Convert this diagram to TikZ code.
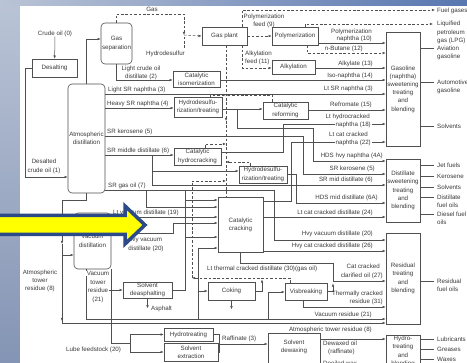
\documentclass[tikz,border=0pt]{standalone}
\usepackage{fontspec}
\setmainfont{Liberation Sans}
\usetikzlibrary{arrows.meta}
\definecolor{ln}{HTML}{505050}
\definecolor{tx}{HTML}{3A3A3A}
\definecolor{bgA}{HTML}{BAC4D6}
\definecolor{bgB}{HTML}{8494B4}
\definecolor{bgC}{HTML}{5876B0}
\definecolor{arrY}{HTML}{FFFF00}
\definecolor{arrB}{HTML}{2C4A88}
\newcounter{lbc}
\newcommand\labW[3]{\stepcounter{lbc}\node[lb,anchor=base west] (L\arabic{lbc}) at (#1,#2) {#3};}
\newcommand\labC[3]{\stepcounter{lbc}\node[lb,anchor=base] (L\arabic{lbc}) at (#1,#2) {#3};}
\newcommand\labE[3]{\stepcounter{lbc}\node[lb,anchor=base east] (L\arabic{lbc}) at (#1,#2) {#3};}
\newcommand\labF[3]{\stepcounter{lbc}\node[wl,anchor=base east] (L\arabic{lbc}) at (#1,#2) {#3};}
\newcommand\labFC[3]{\stepcounter{lbc}\node[wl,anchor=base] (L\arabic{lbc}) at (#1,#2) {#3};}
\begin{document}
\begin{tikzpicture}[x=1pt,y=-1pt,
  font=\fontsize{6.2}{8.2}\selectfont,
  box/.style={draw=ln, line width=0.6pt, fill=white, text=tx, align=center, inner sep=0pt},
  rbox/.style={box, rounded corners=4pt},
  lb/.style={text=tx, inner sep=0pt},
  wl/.style={lb, fill=white, inner xsep=1pt, inner ysep=0.6pt},
  fl/.style={draw=ln, line width=0.5pt, -{Latex[length=3.2pt,width=2.6pt]}},
  pl/.style={draw=ln, line width=0.5pt},
  dfl/.style={fl, dash pattern=on 2.6pt off 1.8pt},
  dpl/.style={pl, dash pattern=on 2.6pt off 1.8pt}]
% ---------- background ----------
\useasboundingbox (0,0) rectangle (467,363);
\shade[top color=bgA, bottom color=bgB] (0,0) rectangle (467,363);
\shade[left color=bgA, right color=bgC] (0,0) rectangle (467,6);
\fill[white] (20,6) rectangle (467,363);
% ---------- boxes ----------
\node[rbox, minimum width=31, minimum height=41] (gassep) at (116.5,43.5) {Gas\\separation};
\node[box, minimum width=45, minimum height=18] (desalt) at (54.5,68) {Desalting};
\node[rbox, minimum width=37, minimum height=109] (atm) at (86.5,138.5) {Atmospheric\\distillation};
\node[rbox, minimum width=37, minimum height=56] (vac) at (92.5,241) {Vacuum\\distillation};
\node[box, minimum width=45, minimum height=18] (gasplant) at (224.5,36) {Gas plant};
\node[box, minimum width=46, minimum height=18] (poly) at (295,36) {Polymerization};
\node[box, minimum width=43, minimum height=14] (alky) at (293.5,67) {Alkylation};
\node[box, minimum width=47, minimum height=16] (isom) at (196.5,79) {Catalytic\\isomerization};
\node[box, minimum width=48, minimum height=20] (hds1) at (198,107) {Hydrodesulfu-\\rization/treating};
\node[box, minimum width=45, minimum height=17] (reform) at (285.5,110.5) {Catalytic\\reforming};
\node[box, minimum width=47, minimum height=17] (hcrack) at (197.5,156.5) {Catalytic\\hydrocracking};
\node[box, minimum width=48, minimum height=17] (hds2) at (263,174.5) {Hydrodesulfu-\\rization/treating};
\node[box, minimum width=45, minimum height=55] (ccrack) at (240.5,224.5) {Catalytic\\cracking};
\node[box, minimum width=34, minimum height=114] (gasoline) at (403,89) {Gasoline\\(naphtha)\\sweetening\\treating\\and\\blending};
\node[box, minimum width=34, minimum height=63] (distil) at (403,190.5) {Distillate\\sweetening\\treating\\and\\blending};
\node[box, minimum width=34, minimum height=91] (resid) at (403,278.5) {Residual\\treating\\and\\blending};
\node[box, anchor=north, minimum width=34, minimum height=40] (lube) at (403,335) {};
\node[box, minimum width=49, minimum height=16] (deasph) at (147.5,290) {Solvent\\deasphalting};
\node[box, minimum width=47, minimum height=18] (coking) at (231.5,291) {Coking};
\node[box, minimum width=42, minimum height=17] (visb) at (306,291.5) {Visbreaking};
\node[box, minimum width=49, minimum height=13] (hydrot) at (188.5,334.5) {Hydrotreating};
\node[box, minimum width=54, minimum height=18] (solvext) at (191,352) {Solvent\\extraction};
\node[box, anchor=north, minimum width=52, minimum height=40] (dewax) at (294,333) {};
% ---------- named junctions ----------
\coordinate (gj) at (184,35);
\coordinate (fuelend) at (435,10);
\coordinate (lpgend) at (433,24);
% ---------- crude / atmospheric ----------
\node[lb] (crude) at (55,33.5) {Crude oil (0)};
\draw[fl] (crude) -- (desalt);
\draw[fl] (desalt.west) -- ++(-6,0) |- (atm.west |- 0,177);
\draw[fl] (atm.north) |- (gassep.west |- 0,39);
\draw[fl] (gassep.south) |- (isom.west |- 0,80);
% gas lines
\draw[dfl] (gassep.north) |- (184,14) -- (gj);
\draw[dpl] (184,48) -- (gj);
\draw[dfl] (gj) -- (gasplant.west);
\draw[dfl] (gasplant.north -| 242,0) |- (fuelend);
\draw[dfl] (gasplant.south -| 242,0) |- (alky.west |- 0,68);
\draw[dfl] (gasplant.east) -- (poly.west);
\draw[dfl] (poly.north -| 305,0) |- (lpgend);
\draw[dfl] (poly.south -| 307,0) |- (gasoline.west |- 0,53);
% gasoline feeds
\draw[fl] (poly.east |- 0,43) -- (gasoline.west |- 0,43);
\draw[fl] (alky.east |- 0,68) -- (gasoline.west |- 0,68);
\draw[fl] (isom.east |- 0,80) -- (gasoline.west |- 0,80);
\draw[fl] (atm.east |- 0,94) -- (gasoline.west |- 0,94);
\draw[fl] (atm.east |- 0,108) -- (hds1.west |- 0,108);
\draw[fl] (hds1.east |- 0,109) -- (reform.west |- 0,109);
\draw[fl] (reform.east |- 0,110) -- (gasoline.west |- 0,110);
\draw[fl] (237,109) |- (313,128) |- (distil.west |- 0,161);
\draw[fl] (hcrack.east |- 0,152) -| (283,124) -- (gasoline.west |- 0,124);
\draw[fl] (ccrack.east |- 0,201) -| (291,142) -- (gasoline.west |- 0,142);
% distillate feeds
\draw[fl] (atm.east |- 0,136) -| (303,174) -- (distil.west |- 0,174);
\draw[fl] (atm.east |- 0,155) -- (hcrack.west |- 0,155);
\draw[fl] (152,155) |- (distil.west |- 0,185);
\draw[fl] (152,171) -- (hds2.west |- 0,171);
\draw[fl] (hds2.east) -| (296,203) -- (distil.west |- 0,203);
\draw[fl] (ccrack.east |- 0,217) -- (distil.west |- 0,217);
% gas oil / cat cracker feeds
\draw[pl] (atm.east |- 0,190) -- (274,190);
\draw[fl] (274,190) |- (resid.west |- 0,240);
\draw[fl] (146,190) |- (ccrack.west |- 0,207);
\draw[pl] (deasph.east) -| (185,190);
\draw[fl] (185,200) -- (ccrack.west |- 0,200);
\draw[fl] (185,237) -- (ccrack.west |- 0,237);
\draw[fl] (vac.east |- 0,217) -- (ccrack.west |- 0,217);
\draw[fl] (vac.east |- 0,233) -| (173,223) -- (ccrack.west |- 0,223);
% residual feeds
\draw[fl] (ccrack.east |- 0,251) -- (resid.west |- 0,251);
\draw[fl] (ccrack.south) |- (333,263) |- (resid.west |- 0,281);
\draw[fl] (visb.east) -| (333,283.5);
\draw[fl] (visb.south -| 303,0) |- (resid.west |- 0,307);
\draw[fl] (vac.south -| 86,0) |- (resid.west |- 0,319);
\draw[fl] (86,290) -- (deasph.west |- 0,290);
\draw[fl] (198,319) |- (coking.west |- 0,291);
\draw[fl] (198,291) |- (ccrack.west |- 0,248);
\draw[fl] (268,319) |- (visb.west |- 0,292);
\draw[fl] (coking.east |- 0,291) -| (262,279.5);
\draw[fl] (coking.south) -- ++(0,9);
\draw[fl] (deasph.south) -- ++(0,10);
% atmospheric residue
\draw[fl] (atm.south) |- (62,200) -- (62,244);
\draw[fl] (62,244) -- (62,321);
\draw[fl] (62,318) |- (resid.west |- 0,323);
\draw[fl] (62,255) -- (vac.west |- 0,255);
% hydrogen / gas header
\draw[dfl] (gasplant.south -| 226,0) -- (226,121);
\draw[dpl] (226,121) -- (ccrack.north -| 226,0);
\draw[dfl] (hds1.north -| 210,0) |- (226,95);
\draw[dfl] (reform.north -| 272,0) |- (226,95);
\draw[dfl] (hcrack.north -| 205,0) |- (226,144);
\draw[dfl] (hds2.north -| 250,0) |- (226,162);
\draw[dfl] (visb.north -| 290,0) |- (192,278);
\draw[dfl] (192,278) |- (226,181);
% lube section
\draw[pl] (vac.south east) |- (130,343);
\draw[fl] (130,343) |- (hydrot.west);
\draw[fl] (130,343) |- (solvext.west);
\draw[pl] (hydrot.east) -| (219,344);
\draw[pl] (solvext.east) -| (219,344);
\draw[fl] (219,344) -- (dewax.west |- 0,344);
\draw[fl] (dewax.east |- 0,339) -- (lube.west |- 0,339);
% ---------- product lines ----------
\draw[pl] (gasoline.east |- 0,48) -- (434,48);
\draw[pl] (gasoline.east |- 0,82) -- (434,82);
\draw[pl] (gasoline.east |- 0,126) -- (434,126);
\draw[pl] (distil.east |- 0,165) -- (434,165);
\draw[pl] (distil.east |- 0,176) -- (434,176);
\draw[pl] (distil.east |- 0,187) -- (434,187);
\draw[pl] (distil.east |- 0,197) -- (434,197);
\draw[pl] (distil.east |- 0,214) -- (434,214);
\draw[pl] (resid.east |- 0,281) -- (434,281);
\draw[pl] (lube.east |- 0,339) -- (434,339);
\draw[pl] (lube.east |- 0,349) -- (434,349);
\draw[pl] (lube.east |- 0,359) -- (434,359);
% ---------- box texts placed separately ----------
\node[lb, align=center, anchor=north] (lubetxt) at (403,336) {Hydro-\\treating\\and\\blending};
\node[lb, align=center, anchor=north] (dewaxtxt) at (294,340) {Solvent\\dewaxing};
% ---------- labels ----------
\labC{152}{11.3}{Gas}
\labW{146}{56}{Hydrodesulfur}
\labC{141}{71}{Light crude oil}
\labC{141}{78.3}{distillate (2)}
\labW{108}{91.3}{Light SR naphtha (3)}
\labW{107}{105.5}{Heavy SR naphtha (4)}
\labW{107}{133.5}{SR kerosene (5)}
\labW{107}{152.5}{SR middle distillate (6)}
\labW{108}{187.7}{SR gas oil (7)}
\labC{44}{164}{Desalted}
\labC{44}{172.5}{crude oil (1)}
\labC{264}{18.5}{Polymerization}
\labC{264}{26.7}{feed (9)}
\labW{245}{55.5}{Alkylation}
\labW{245}{63.7}{feed (11)}
\labE{372}{34}{Polymerization}
\labE{372}{41}{naphtha (10)}
\labE{363}{50.5}{n-Butane (12)}
\labE{373}{65.5}{Alkylate (13)}
\labE{373}{77.3}{Iso-naphtha (14)}
\labE{373}{91}{Lt SR naphtha (3)}
\labE{372}{106.5}{Refromate (15)}
\labE{370}{119}{Lt hydrocracked}
\labF{372}{126.5}{naphtha (18)}
\labE{368}{136.5}{Lt cat cracked}
\labF{372}{144.5}{naphtha (22)}
\labE{383}{158}{HDS hvy naphtha (4A)}
\labE{375}{171}{SR kerosene (5)}
\labE{373}{182}{SR mid distillate (6)}
\labE{378}{200}{HDS mid distillate (6A)}
\labE{373}{214.3}{Lt cat cracked distillate (24)}
\labE{373}{235.5}{Hvy vacuum distillate (20)}
\labE{373}{248}{Hvy cat cracked distillate (26)}
\labE{380}{268.5}{Cat cracked}
\labE{383}{277.5}{clarified oil (27)}
\labW{207}{271}{Lt thermal cracked distillate (30)(gas oil)}
\labE{383}{295.3}{Thermally cracked}
\labE{383}{303.8}{residue (31)}
\labE{372}{316.3}{Vacuum residue (21)}
\labE{372}{331.5}{Atmospheric tower residue (8)}
\labW{323}{345.5}{Dewaxed oil}
\labW{328}{353.7}{(raffinate)}
\labW{323}{366}{Deoiled wax}
\labW{222}{340.3}{Raffinate (3)}
\labC{40}{274.3}{Atmospheric}
\labC{40}{282.5}{tower}
\labC{40}{290.7}{residue (8)}
\labFC{98}{275.5}{Vacuum}
\labFC{98}{284.3}{tower}
\labFC{98}{293}{residue}
\labFC{98}{301.7}{(21)}
\labW{151}{310.5}{Asphalt}
\labW{66}{351.3}{Lube feedstock (20)}
\labW{113}{214.5}{Lt vacuum distillate (19)}
\labC{145}{242}{Hvy vacuum}
\labC{146}{250.2}{distillate (20)}
% products
\labW{437}{12.3}{Fuel gases}
\labW{437}{25.8}{Liquified}
\labW{437}{34.3}{petroleum}
\labW{437}{42.8}{gas (LPG)}
\labW{437}{50.3}{Aviation}
\labW{437}{58.5}{gasoline}
\labW{437}{84.3}{Automotive}
\labW{437}{92.5}{gasoline}
\labW{437}{128.3}{Solvents}
\labW{437}{167.3}{Jet fuels}
\labW{437}{178.3}{Kerosene}
\labW{437}{189.3}{Solvents}
\labW{437}{199.3}{Distillate}
\labW{437}{207.5}{fuel oils}
\labW{437}{216.3}{Diesel fuel}
\labW{437}{224.5}{oils}
\labW{437}{283.3}{Residual}
\labW{437}{291.5}{fuel oils}
\labW{437}{341.3}{Lubricants}
\labW{437}{351.3}{Greases}
\labW{437}{361.3}{Waxes}
% ---------- big yellow arrow ----------
\draw[draw=arrB, line width=3.5pt, fill=arrY, line join=miter]
  (-5,215.5) -- (125,215.5) -- (125,206) -- (145,225) -- (125,244) -- (125,234.5) -- (-5,234.5) -- cycle;
\end{tikzpicture}
\end{document}
